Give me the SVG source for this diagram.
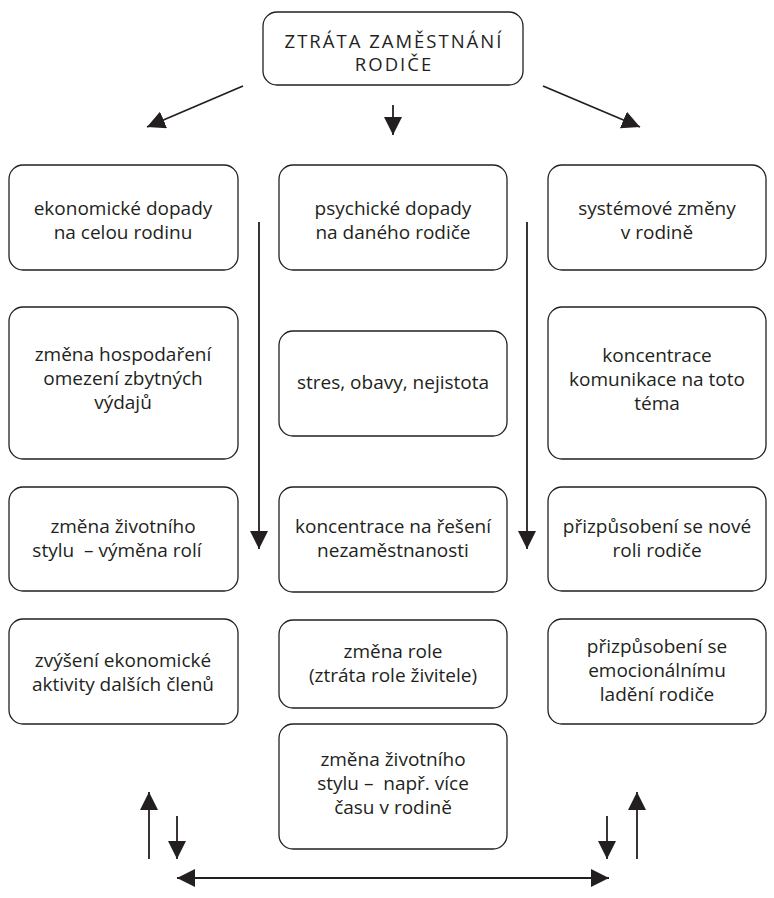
<svg xmlns="http://www.w3.org/2000/svg" width="774" height="898" viewBox="0 0 774 898">
  <defs>
    <style>
      .box { fill: #ffffff; stroke: #231f20; stroke-width: 1.3; }
      .lbl { font-family: "Open Sans", "Noto Sans", "DejaVu Sans", sans-serif; font-size: 19px; fill: #231f20; text-anchor: middle; }
      .title { font-size: 18.5px; letter-spacing: 2px; }
      .arr { stroke: #231f20; stroke-width: 1.8; fill: none; }
    </style>
    <marker id="head" viewBox="0 0 18 18" refX="18" refY="9" markerWidth="18" markerHeight="18" markerUnits="userSpaceOnUse" orient="auto-start-reverse">
      <path d="M0,0 L18,9 L0,18 z" fill="#231f20"/>
    </marker>
  </defs>

  <rect width="774" height="898" fill="#ffffff"/>

  <!-- root -->
  <g id="root">
    <rect class="box" x="263" y="12" width="260" height="73" rx="14"/>
    <text class="lbl title" x="394" y="48">ZTRÁTA ZAMĚSTNÁNÍ</text>
    <text class="lbl title" x="394" y="71">RODIČE</text>
  </g>

  <!-- left column: economic -->
  <g id="econ">
    <rect class="box" x="9" y="165" width="229" height="105" rx="14"/>
    <text class="lbl" x="123" y="215">ekonomické dopady</text>
    <text class="lbl" x="123" y="239">na celou rodinu</text>
  </g>
  <g id="econ-budget">
    <rect class="box" x="9" y="307" width="229" height="152" rx="14"/>
    <text class="lbl" x="123" y="361">změna hospodaření</text>
    <text class="lbl" x="123" y="385">omezení zbytných</text>
    <text class="lbl" x="123" y="409">výdajů</text>
  </g>
  <g id="econ-lifestyle">
    <rect class="box" x="9" y="487" width="229" height="104" rx="14"/>
    <text class="lbl" x="123" y="533">změna životního</text>
    <text class="lbl" x="117" y="557" xml:space="preserve">stylu  – výměna rolí</text>
  </g>
  <g id="econ-activity">
    <rect class="box" x="9" y="619" width="229" height="105" rx="14"/>
    <text class="lbl" x="123" y="667">zvýšení ekonomické</text>
    <text class="lbl" x="123" y="691">aktivity dalších členů</text>
  </g>

  <!-- middle column: psychological -->
  <g id="psych">
    <rect class="box" x="279" y="165" width="228" height="105" rx="14"/>
    <text class="lbl" x="393" y="215">psychické dopady</text>
    <text class="lbl" x="393" y="239">na daného rodiče</text>
  </g>
  <g id="psych-stress">
    <rect class="box" x="279" y="331" width="228" height="105" rx="14"/>
    <text class="lbl" x="393" y="389">stres, obavy, nejistota</text>
  </g>
  <g id="psych-focus">
    <rect class="box" x="279" y="487" width="228" height="105" rx="14"/>
    <text class="lbl" x="393" y="533">koncentrace na řešení</text>
    <text class="lbl" x="393" y="557">nezaměstnanosti</text>
  </g>
  <g id="psych-role">
    <rect class="box" x="279" y="620" width="228" height="88" rx="14"/>
    <text class="lbl" x="393" y="658">změna role</text>
    <text class="lbl" x="393" y="682">(ztráta role živitele)</text>
  </g>
  <g id="psych-lifestyle">
    <rect class="box" x="279" y="724" width="228" height="125" rx="14"/>
    <text class="lbl" x="393" y="766">změna životního</text>
    <text class="lbl" x="393" y="790" xml:space="preserve">stylu –  např. více</text>
    <text class="lbl" x="393" y="814">času v rodině</text>
  </g>

  <!-- right column: family system -->
  <g id="system">
    <rect class="box" x="548" y="165" width="218" height="105" rx="14"/>
    <text class="lbl" x="657" y="215">systémové změny</text>
    <text class="lbl" x="657" y="239">v rodině</text>
  </g>
  <g id="system-communication">
    <rect class="box" x="548" y="307" width="218" height="152" rx="14"/>
    <text class="lbl" x="657" y="362">koncentrace</text>
    <text class="lbl" x="657" y="386">komunikace na toto</text>
    <text class="lbl" x="657" y="410">téma</text>
  </g>
  <g id="system-role">
    <rect class="box" x="548" y="487" width="218" height="104" rx="14"/>
    <text class="lbl" x="657" y="533">přizpůsobení se nové</text>
    <text class="lbl" x="657" y="557">roli rodiče</text>
  </g>
  <g id="system-mood">
    <rect class="box" x="548" y="619" width="218" height="105" rx="14"/>
    <text class="lbl" x="657" y="653">přizpůsobení se</text>
    <text class="lbl" x="657" y="677">emocionálnímu</text>
    <text class="lbl" x="657" y="701">ladění rodiče</text>
  </g>

  <!-- connectors -->
  <g id="connectors">
    <line class="arr" x1="243" y1="86" x2="147" y2="127" marker-end="url(#head)"/>
    <line class="arr" x1="393" y1="105" x2="393" y2="135" marker-end="url(#head)"/>
    <line class="arr" x1="543" y1="86" x2="640" y2="127" marker-end="url(#head)"/>

    <line class="arr" x1="259" y1="222" x2="259" y2="549" marker-end="url(#head)"/>
    <line class="arr" x1="527" y1="222" x2="527" y2="549" marker-end="url(#head)"/>

    <line class="arr" x1="149" y1="859" x2="149" y2="792" marker-end="url(#head)"/>
    <line class="arr" x1="177" y1="816" x2="177" y2="859" marker-end="url(#head)"/>
    <line class="arr" x1="607" y1="816" x2="607" y2="859" marker-end="url(#head)"/>
    <line class="arr" x1="637" y1="859" x2="637" y2="792" marker-end="url(#head)"/>

    <line class="arr" x1="177" y1="878" x2="609" y2="878" marker-start="url(#head)" marker-end="url(#head)"/>
  </g>
</svg>
